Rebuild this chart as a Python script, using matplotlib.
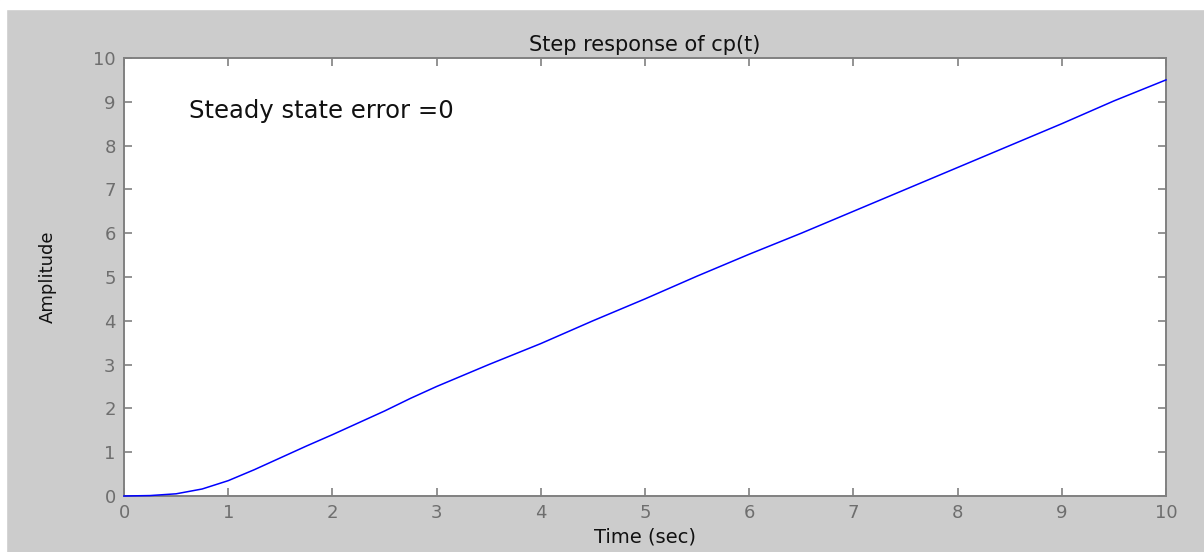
import matplotlib
matplotlib.use("Agg")
import matplotlib.pyplot as plt

# Sampled ramp response of cp(t)
time_s = [0.0, 0.25, 0.5, 0.75, 1.0, 1.25, 1.5, 1.75, 2.0, 2.25, 2.5, 2.75,
          3.0, 3.5, 4.0, 4.5, 5.0, 5.5, 6.0, 6.5, 7.0, 7.5, 8.0, 8.5, 9.0,
          9.5, 10.0]
amplitude = [0.0, 0.01, 0.05, 0.16, 0.35, 0.6, 0.87, 1.14, 1.4, 1.67,
             1.94, 2.23, 2.5, 3.0, 3.48, 4.0, 4.5, 5.02, 5.52, 6.0, 6.5,
             7.0, 7.5, 8.0, 8.5, 9.02, 9.5]
x_ticks = list(range(0, 11))
y_ticks = list(range(0, 11))

title_text = "Step response of cp(t)"
note_text = "Steady state error =0"
x_label = "Time (sec)"
y_label = "Amplitude"

bg = "#cccccc"
tick_col = "#6e6e6e"
spine_col = "#808080"

fig = plt.figure(figsize=(12.04, 5.52), dpi=100, facecolor=bg)
# white margin strips along the top and left edges
fig.patches.append(plt.Rectangle((0, 1 - 9 / 552), 1, 9 / 552,
                                 transform=fig.transFigure, color="white", zorder=0))
fig.patches.append(plt.Rectangle((0, 0), 6 / 1204, 1,
                                 transform=fig.transFigure, color="white", zorder=0))

ax = fig.add_axes([124 / 1204, 1 - 496 / 552, (1166 - 124) / 1204, (496 - 58) / 552])
ax.set_facecolor("white")
ax.plot(time_s, amplitude, color="#0000ff", lw=1.1, zorder=3, clip_on=False)

ax.set_xlim(0, 10)
ax.set_ylim(0, 10)
ax.set_xticks(x_ticks)
ax.set_yticks(y_ticks)
ax.tick_params(direction="in", length=6, width=1.2, color=spine_col,
               labelcolor=tick_col, labelsize=13, top=True, right=True, pad=6)
for s in ax.spines.values():
    s.set_color(spine_col)
    s.set_linewidth(1.4)

ax.set_title(title_text, fontsize=15, color="#111111", pad=5)
ax.set_xlabel(x_label, fontsize=14, color="#111111", labelpad=4)
ax.set_ylabel(y_label, fontsize=13, color="#111111", labelpad=26,
              family=["Liberation Sans Narrow", "DejaVu Sans"])
ax.text(0.62, 8.78, note_text, fontsize=17.5, color="#111111", va="center", ha="left")

fig.savefig("out.png", dpi=100, facecolor=bg)
